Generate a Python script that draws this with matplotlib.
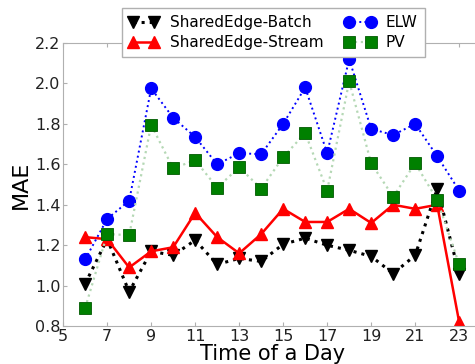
import matplotlib
matplotlib.use('Agg')
import matplotlib.pyplot as plt

hours = list(range(6, 24))

batch = [1.01, 1.23, 0.97, 1.17, 1.15, 1.225, 1.105, 1.135, 1.12, 1.205,
         1.235, 1.20, 1.175, 1.145, 1.06, 1.15, 1.48, 1.06]
stream = [1.24, 1.23, 1.09, 1.17, 1.19, 1.36, 1.24, 1.16, 1.255, 1.38,
          1.315, 1.315, 1.38, 1.31, 1.40, 1.38, 1.40, 0.82]
elw = [1.13, 1.33, 1.42, 1.975, 1.83, 1.735, 1.60, 1.655, 1.65, 1.80,
       1.98, 1.655, 2.12, 1.775, 1.745, 1.80, 1.64, 1.47]
pv = [0.89, 1.255, 1.25, 1.795, 1.58, 1.62, 1.485, 1.585, 1.48, 1.635,
      1.755, 1.47, 2.01, 1.605, 1.44, 1.605, 1.425, 1.105]

xticks = list(range(5, 24, 2))
yticks = [0.8, 1.0, 1.2, 1.4, 1.6, 1.8, 2.0, 2.2]

fig = plt.figure(figsize=(4.75, 3.64), dpi=100)
ax = fig.add_axes([0.133, 0.104, 0.88, 0.778])

ax.plot(hours, batch, color='black', linestyle=':', linewidth=2.2,
        marker='v', markersize=8.5, label='SharedEdge-Batch')
ax.plot(hours, stream, color='red', linestyle='-', linewidth=1.8,
        marker='^', markersize=8.5, markeredgecolor='red', label='SharedEdge-Stream')
ax.plot(hours, elw, color='blue', linestyle=':', linewidth=1.4,
        marker='o', markersize=8.5, markeredgecolor='blue', label='ELW')
ax.plot(hours, pv, color='#b5d8b5', linestyle=':', linewidth=1.6,
        marker='s', markersize=8, markerfacecolor='green',
        markeredgecolor='#005a00', markeredgewidth=0.6, label='PV')

ax.set_xlim(5, 24)
ax.set_ylim(0.8, 2.2)
ax.set_xticks(xticks)
ax.set_yticks(yticks)
ax.tick_params(direction='in', colors='#b0b0b0', labelcolor='#222222',
               labelsize=11.5, top=True, length=3, pad=2)
for s in ax.spines.values():
    s.set_color('#b0b0b0')

ax.set_xlabel('Time of a Day', fontsize=15, labelpad=0)
ax.set_ylabel('MAE', fontsize=16, labelpad=3)

leg = ax.legend(loc='upper center', bbox_to_anchor=(0.575, 0.978),
                bbox_transform=fig.transFigure, ncol=2, numpoints=2,
                fontsize=11, fancybox=False, framealpha=1, borderaxespad=0,
                handlelength=2.0, borderpad=0.45, labelspacing=0.35,
                columnspacing=1.4, handletextpad=0.7)
leg.get_frame().set_edgecolor('#b0b0b0')

fig.savefig('out.png', dpi=100)
